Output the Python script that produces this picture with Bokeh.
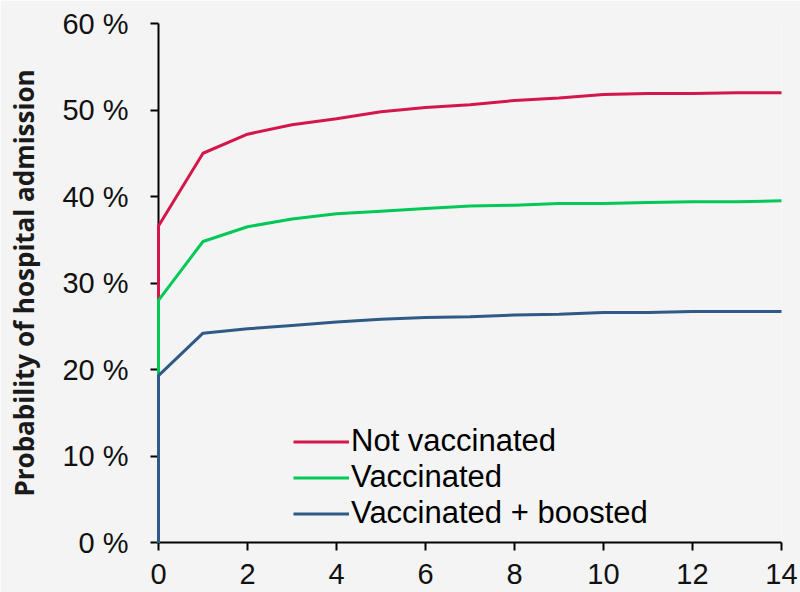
from bokeh.plotting import figure
from bokeh.models import FixedTicker, Legend, LegendItem, Range1d
from bokeh.embed import file_html
from bokeh.resources import INLINE

days = list(range(0, 15))
not_vaccinated = [36.6, 45.0, 47.2, 48.3, 49.0, 49.8, 50.3, 50.6, 51.1, 51.4, 51.8, 51.9, 51.9, 52.0, 52.0]
vaccinated = [28.0, 34.8, 36.5, 37.4, 38.0, 38.3, 38.6, 38.9, 39.0, 39.2, 39.2, 39.3, 39.4, 39.4, 39.5]
boosted = [19.3, 24.2, 24.7, 25.1, 25.5, 25.8, 26.0, 26.1, 26.3, 26.4, 26.6, 26.6, 26.7, 26.7, 26.7]
series_names = ["Not vaccinated", "Vaccinated", "Vaccinated + boosted"]
series_colors = ["#d4174b", "#00c957", "#2f5a88"]
y_ticks = [0, 10, 20, 30, 40, 50, 60]
y_tick_labels = ["0 %", "10 %", "20 %", "30 %", "40 %", "50 %", "60 %"]
x_ticks = [0, 2, 4, 6, 8, 10, 12, 14]

FONT = "Liberation Sans"
BG = "#f4f4f4"

p = figure(width=800, height=592, output_backend="svg", toolbar_location=None,
           x_range=Range1d(0, 14), y_range=Range1d(0, 60),
           min_border_left=158, min_border_right=19, min_border_top=23, min_border_bottom=50)
p.background_fill_color = BG
p.border_fill_color = BG
p.outline_line_color = None
p.grid.visible = False

items = []
for name, vals, col in zip(series_names, [not_vaccinated, vaccinated, boosted], series_colors):
    xs = [days[0]] + days
    ys = [0] + vals
    r = p.line(xs, ys, line_color=col, line_width=3, level="overlay")
    items.append(LegendItem(label=name, renderers=[r]))

legend = Legend(items=items, location=(135, 11), padding=0, margin=0, spacing=0,
                glyph_width=56, glyph_height=33, label_height=33, label_standoff=2,
                label_text_font=FONT, label_text_font_size="31px", label_text_color="#000000",
                background_fill_alpha=0, border_line_color=None)
p.add_layout(legend, "center")

for ax in (p.xaxis[0], p.yaxis[0]):
    ax.axis_line_color = "#000000"
    ax.axis_line_width = 2
    ax.major_tick_line_color = "#000000"
    ax.major_tick_line_width = 2
    ax.major_tick_in = 0
    ax.major_tick_out = 8
    ax.minor_tick_line_color = None
    ax.major_label_text_font = FONT
    ax.major_label_text_font_size = "29px"
    ax.major_label_text_color = "#111111"

p.yaxis[0].ticker = FixedTicker(ticks=y_ticks)
p.yaxis[0].major_label_overrides = {t: l for t, l in zip(y_ticks, y_tick_labels)}
p.yaxis[0].major_label_standoff = 22
p.yaxis[0].axis_label = "Probability of hospital admission"
p.yaxis[0].axis_label_text_font = "Open Sans"
p.yaxis[0].axis_label_text_font_size = "26px"
p.yaxis[0].axis_label_text_font_style = "bold"
p.yaxis[0].axis_label_text_color = "#1a1a1a"
p.yaxis[0].axis_label_standoff = 17

p.xaxis[0].ticker = FixedTicker(ticks=x_ticks)
p.xaxis[0].major_label_standoff = 13

open("out.html", "w").write(file_html(p, INLINE))
